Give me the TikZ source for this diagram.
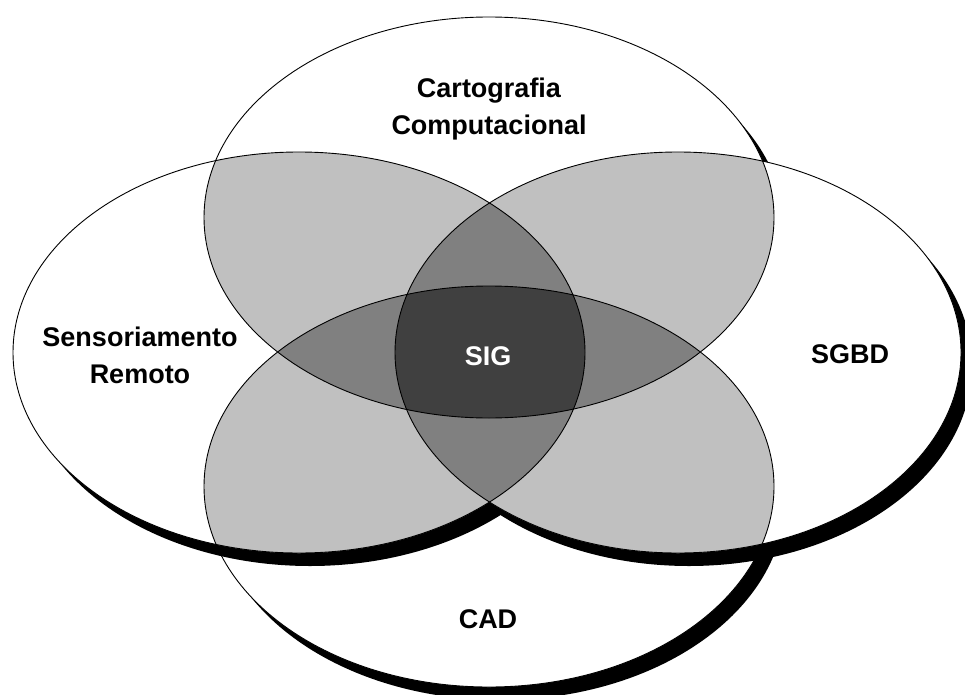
\documentclass[tikz,border=0pt]{standalone}
\usepackage{fontspec}
\setmainfont{Liberation Sans}
\definecolor{pairfill}{HTML}{C0C0C0}
\definecolor{triplefill}{HTML}{808080}
\definecolor{corefill}{HTML}{404040}

% the four sets, each drawn as an ellipse with the given path options
\newcommand\setCarto[1]{\path[#1] (489,217.5) ellipse [x radius=285, y radius=200.5];}
\newcommand\setCad[1]{\path[#1] (489,486.5) ellipse [x radius=285, y radius=200.5];}
\newcommand\setSenso[1]{\path[#1] (299,352.5) ellipse [x radius=286, y radius=200.5];}
\newcommand\setSgbd[1]{\path[#1] (678,352.5) ellipse [x radius=283, y radius=200.5];}

\tikzset{
  dropshadow/.style={fill=black, shift={(11,13)}},
  setbody/.style={fill=white},
  setline/.style={draw=black, line width=0.9pt},
  setlabel/.style={font=\bfseries\fontsize{27}{37}\selectfont, align=center, inner sep=0pt},
}

\begin{document}
\begin{tikzpicture}[x=1pt,y=-1pt]
\useasboundingbox (0,0) rectangle (965,695);

% bodies with their shadows, back to front
\setCarto{dropshadow}\setCarto{setbody}
\setCad{dropshadow}\setCad{setbody}
\setSenso{dropshadow}\setSenso{setbody}
\setSgbd{dropshadow}\setSgbd{setbody}

% overlaps of two sets
\begin{scope}\setCarto{clip}\setSenso{fill=pairfill}\end{scope}
\begin{scope}\setCarto{clip}\setSgbd{fill=pairfill}\end{scope}
\begin{scope}\setCarto{clip}\setCad{fill=pairfill}\end{scope}
\begin{scope}\setCad{clip}\setSenso{fill=pairfill}\end{scope}
\begin{scope}\setCad{clip}\setSgbd{fill=pairfill}\end{scope}
\begin{scope}\setSenso{clip}\setSgbd{fill=pairfill}\end{scope}

% overlaps of three sets
\begin{scope}\setCarto{clip}\setSenso{clip}\setCad{fill=triplefill}\end{scope}
\begin{scope}\setCarto{clip}\setSgbd{clip}\setCad{fill=triplefill}\end{scope}
\begin{scope}\setCarto{clip}\setSenso{clip}\setSgbd{fill=triplefill}\end{scope}
\begin{scope}\setCad{clip}\setSenso{clip}\setSgbd{fill=triplefill}\end{scope}

% overlap of all four
\begin{scope}\setCarto{clip}\setCad{clip}\setSenso{clip}\setSgbd{fill=corefill}\end{scope}

% outlines
\setCarto{setline}\setCad{setline}\setSenso{setline}\setSgbd{setline}

% labels
\node[setlabel] (carto) at (489,109) {Cartografia\\Computacional};
\node[setlabel] (senso) at (140,355) {Sensoriamento\\Remoto};
\node[setlabel] (sgbd) at (850,354) {SGBD};
\node[setlabel, text=white] (sig) at (488,356) {SIG};
\node[setlabel] (cad) at (488,619) {CAD};
\end{tikzpicture}
\end{document}
